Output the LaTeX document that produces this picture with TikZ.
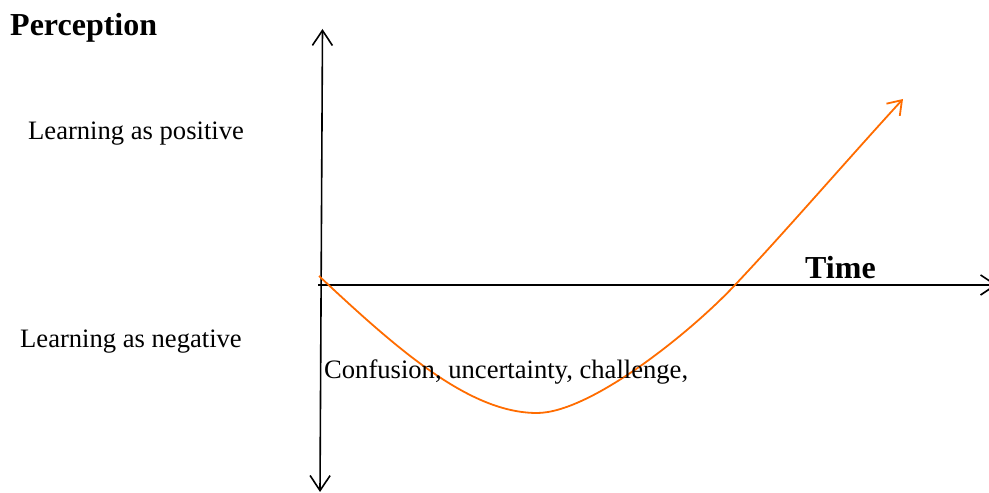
\documentclass[tikz,border=0pt]{standalone}
\usepackage{fontspec}
\setmainfont{Liberation Serif}
\usetikzlibrary{arrows.meta}
\definecolor{curveorange}{RGB}{255,108,0}
\tikzset{
  axis/.style={line width=1.6pt, -{Straight Barb[length=15pt,width=20pt,line width=1.6pt]}},
  lbl/.style={anchor=base west, inner sep=0pt, font=\fontsize{26.6}{30}\selectfont},
  blbl/.style={anchor=base west, inner sep=0pt, font=\fontsize{32}{36}\selectfont\bfseries},
  curve/.style={curveorange, line width=1.8pt, -{Straight Barb[length=13pt,width=18pt,line width=1.8pt]}}
}
\begin{document}
\begin{tikzpicture}[x=1pt,y=1pt]
\useasboundingbox (0,0) rectangle (989,493);
\clip (0,0) rectangle (989,493);
\coordinate (vb) at (320,1);
\coordinate (vt) at (322.5,464);
\coordinate (h0) at (318,208);
\coordinate (h1) at (997,208);
\coordinate (c0) at (319,217);
\coordinate (cmin) at (537,80);
\coordinate (cx) at (735,208);
\coordinate (cend) at (903,394);
\draw[axis] (h0) -- (h1);
\draw[line width=1.6pt, {Straight Barb[length=15pt,width=20pt,line width=1.6pt]}-{Straight Barb[length=15pt,width=20pt,line width=1.6pt]}] (vb) -- (vt);
\draw[curve] (c0) .. controls (399,142) and (470,80) .. (cmin)
  .. controls (590,80) and (690,160) .. (cx)
  .. controls (785,261) and (848,334) .. (cend);
\node[blbl] (perc) at (10,457) {Perception};
\node[lbl] (pos) at (28,353) {Learning as positive};
\node[lbl] (neg) at (20,145) {Learning as negative};
\node[blbl] (time) at (805,214) {Time};
\node[lbl] (conf) at (324,114) {Confusion, uncertainty, challenge,};
\end{tikzpicture}
\end{document}
